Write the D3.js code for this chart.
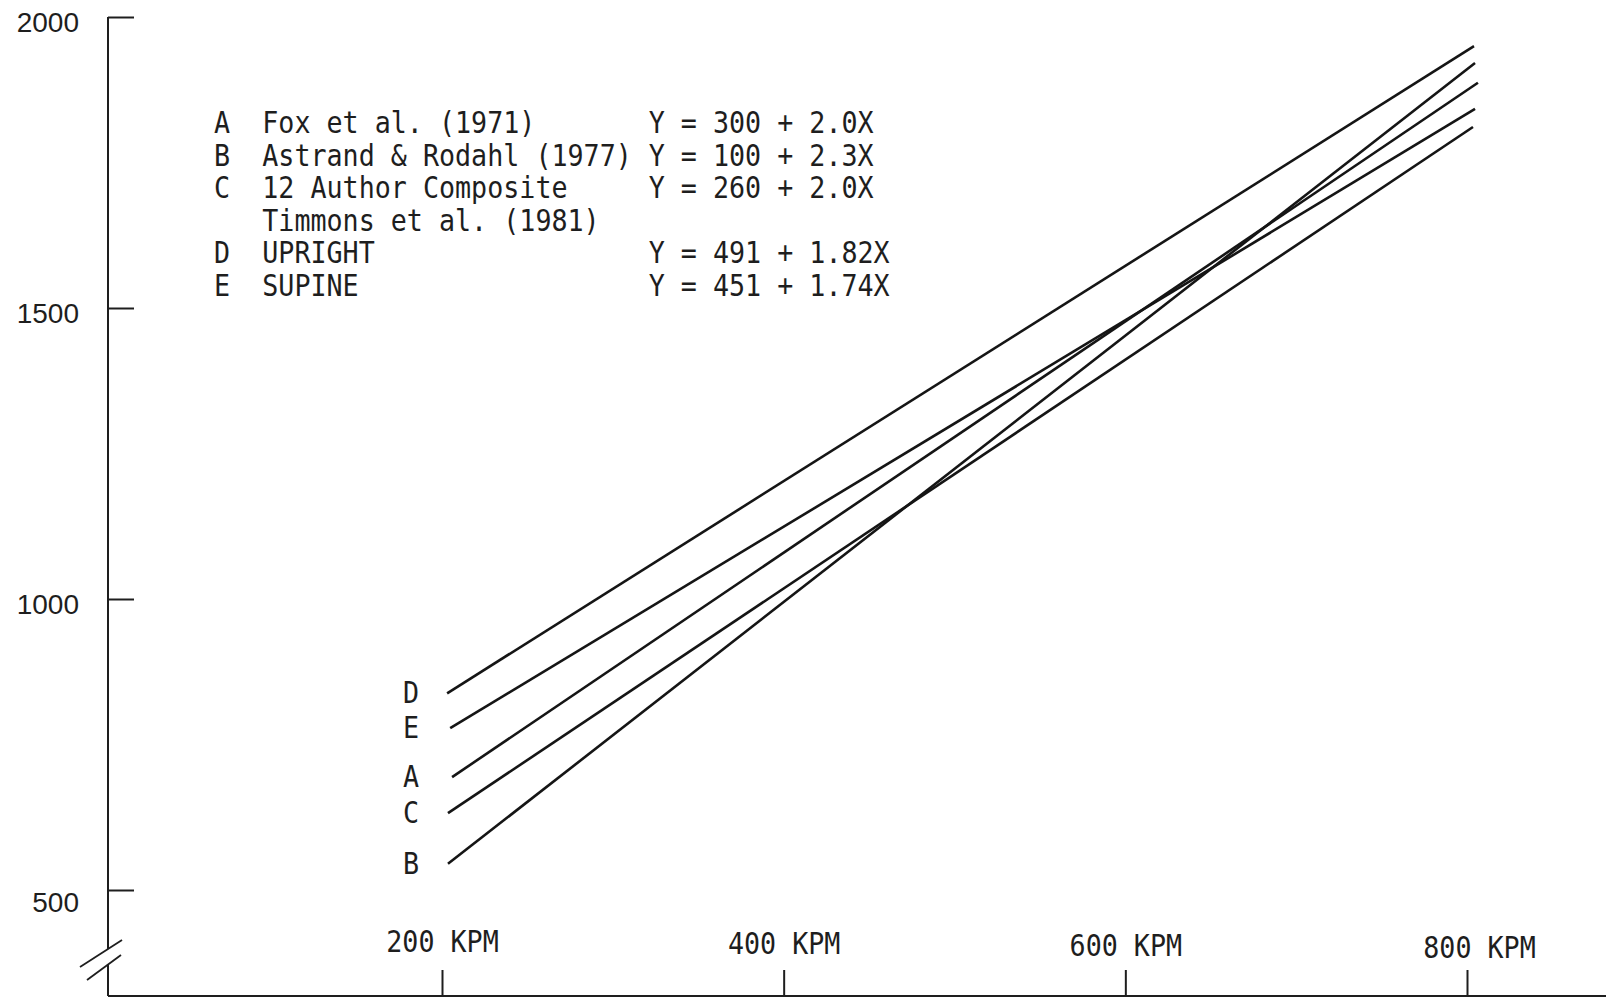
<!DOCTYPE html>
<html>
<head>
<meta charset="utf-8">
<script src="https://cdn.jsdelivr.net/npm/d3@7"></script>
<style>
body { margin: 0; background: #fff; }
svg { display: block; }
.mono { font-family: "DejaVu Sans Mono", monospace; font-size: 26.7px; fill: #1e1e1e; }
.ylab { font-family: "Liberation Sans", Arial, sans-serif; font-size: 28px; fill: #1e1e1e; }
</style>
</head>
<body>
<div id="chart"></div>
<script>
// lines (kpm / value at each end)
var series = ['D', 'E', 'A', 'C', 'B']
var startKpm = [203, 204.8, 205.9, 203.5, 203.5]
var startValue = [838, 778, 694, 632, 545]
var endKpm = [804.1, 804.7, 806.4, 803.5, 804.7]
var endValue = [1950, 1842, 1887, 1811, 1921]

var legendKeys = ['A', 'B', 'C', '', 'D', 'E']
var legendNames = ['Fox et al. (1971)', 'Astrand & Rodahl (1977)', '12 Author Composite', 'Timmons et al. (1981)', 'UPRIGHT', 'SUPINE']
var legendEquations = ['Y = 300 + 2.0X', 'Y = 100 + 2.3X', 'Y = 260 + 2.0X', '', 'Y = 491 + 1.82X', 'Y = 451 + 1.74X']

var yTicks = [500, 1000, 1500, 2000]
var xTicks = [200, 400, 600, 800]
var xTickLabels = ['200 KPM', '400 KPM', '600 KPM', '800 KPM']

var width = 1606,
height = 998,
axisX = 108,
axisY = 996,
charW = 16.1,
ink = '#1e1e1e'

var x = d3.scaleLinear()
  .domain([200, 800])
  .range([442, 1467])

var y = d3.scaleLinear()
  .domain([500, 2000])
  .range([890, 17])

var svg = d3.select('#chart').append('svg')
  .attr('width', width)
  .attr('height', height)
  .attr('viewBox', `0 0 ${width} ${height}`)

svg.append('rect').attr('width', width).attr('height', height).attr('fill', '#fff')

function stretch(sel, px, py) {
  sel.attr('x', 0).attr('y', 0)
    .attr('transform', 'translate(' + px + ',' + py + ') scale(1,1.1)')
}

// y axis
var yAxis = d3.axisLeft(y)
  .tickValues(yTicks)
  .tickSize(-26)
  .tickPadding(29)
  .tickFormat(d3.format('d'))

var gy = svg.append('g')
  .attr('transform', 'translate(' + axisX + ',0)')
  .call(yAxis)

gy.select('.domain').remove()
gy.selectAll('.tick line').attr('stroke', ink).attr('stroke-width', 2)
gy.selectAll('.tick text')
  .attr('class', 'ylab')
  .attr('font-family', null)
  .attr('font-size', null)
  .attr('fill', null)
  .attr('dy', d => d == 500 ? '0.75em' : '0.5em')

// axis line with break
svg.append('line')
  .attr('x1', axisX).attr('x2', axisX)
  .attr('y1', y(2000)).attr('y2', 949)
  .attr('stroke', ink).attr('stroke-width', 2)
svg.append('line')
  .attr('x1', axisX).attr('x2', axisX)
  .attr('y1', 965).attr('y2', axisY)
  .attr('stroke', ink).attr('stroke-width', 2)

svg.append('line')
  .attr('x1', axisX - 28).attr('y1', 967)
  .attr('x2', axisX + 14).attr('y2', 940)
  .attr('stroke', ink).attr('stroke-width', 1.8)
svg.append('line')
  .attr('x1', axisX - 21).attr('y1', 980)
  .attr('x2', axisX + 13).attr('y2', 955)
  .attr('stroke', ink).attr('stroke-width', 1.8)

// x axis
var xAxis = d3.axisBottom(x)
  .tickValues(xTicks)
  .tickSize(-26)
  .tickFormat((d, i) => xTickLabels[i])

var gx = svg.append('g')
  .attr('transform', 'translate(0,' + axisY + ')')
  .call(xAxis)

gx.select('.domain').remove()
gx.selectAll('.tick line').attr('stroke', ink).attr('stroke-width', 2)
gx.selectAll('.tick text')
  .attr('class', 'mono')
  .attr('font-family', null)
  .attr('font-size', null)
  .attr('fill', null)
  .attr('dy', null)
  .each(function(d) { stretch(d3.select(this), d == 800 ? 12 : 0, -44 + (d - 200) / 100) })

svg.append('line')
  .attr('x1', axisX).attr('x2', width)
  .attr('y1', axisY).attr('y2', axisY)
  .attr('stroke', ink).attr('stroke-width', 2.2)

// regression lines
var lines = series.map((s, i) => ({
  key: s,
  pts: [[startKpm[i], startValue[i]], [endKpm[i], endValue[i]]]
}))

var line = d3.line()
  .x(d => x(d[0]))
  .y(d => y(d[1]))

svg.append('g').selectAll('path')
  .data(lines)
  .enter().append('path')
  .attr('d', d => line(d.pts))
  .attr('fill', 'none')
  .attr('stroke', '#151515')
  .attr('stroke-width', 2.6)

svg.append('g').selectAll('text')
  .data(lines)
  .enter().append('text')
  .attr('class', 'mono')
  .attr('text-anchor', 'middle')
  .text(d => d.key)
  .each(function(d) {
    stretch(d3.select(this), x(200) - 31, y(d.pts[0][1]) + 10)
  })

// legend
var legendX = 214,
legendY = 133,
rowH = 32.6

var rows = svg.append('g').selectAll('g')
  .data(legendNames)
  .enter().append('g')

rows.append('text')
  .attr('class', 'mono')
  .text((d, i) => legendKeys[i])
  .each(function(d, i) { stretch(d3.select(this), legendX, legendY + i * rowH) })

rows.append('text')
  .attr('class', 'mono')
  .text(d => d)
  .each(function(d, i) { stretch(d3.select(this), legendX + 3 * charW, legendY + i * rowH) })

rows.append('text')
  .attr('class', 'mono')
  .text((d, i) => legendEquations[i])
  .each(function(d, i) { stretch(d3.select(this), legendX + 27 * charW, legendY + i * rowH) })
</script>
</body>
</html>
